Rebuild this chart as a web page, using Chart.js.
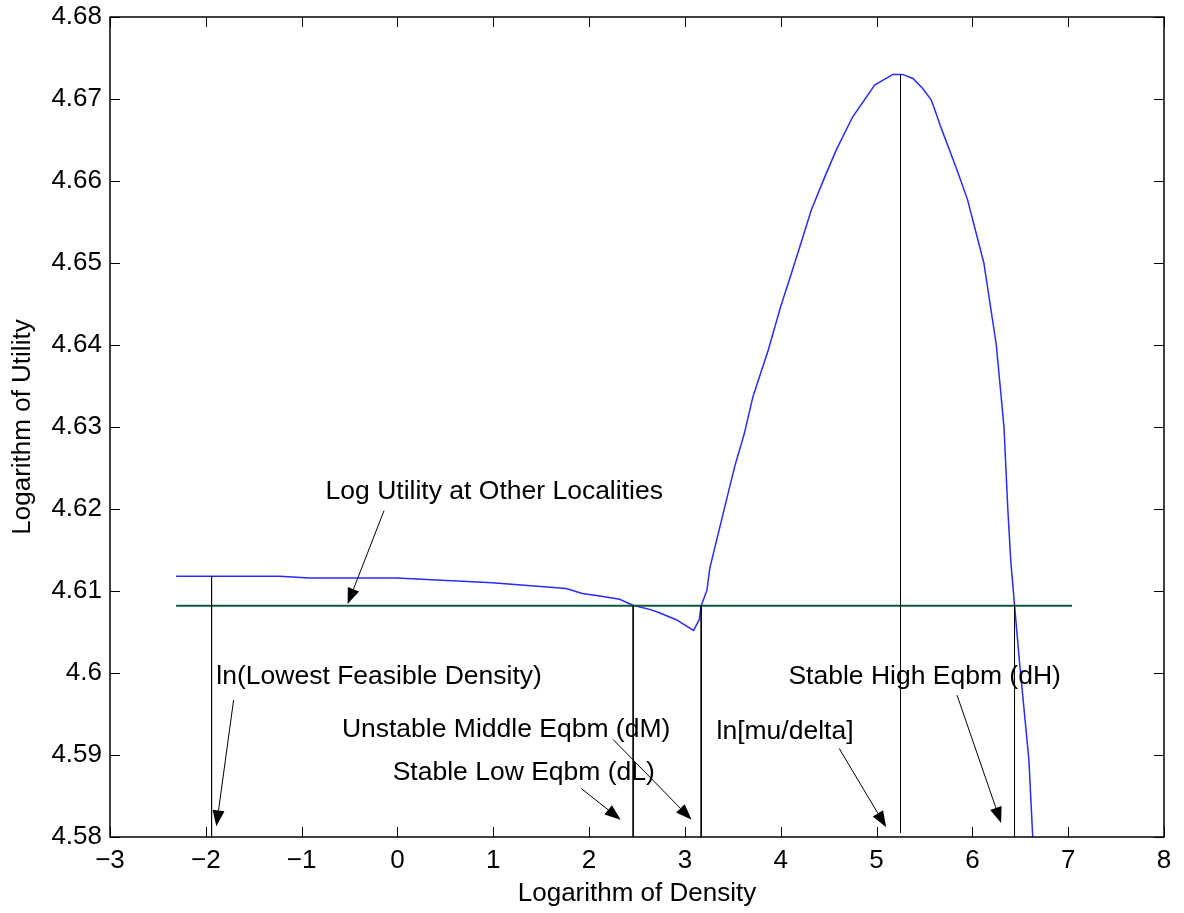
<!DOCTYPE html>
<html>
<head>
<meta charset="utf-8">
<script src="https://cdn.jsdelivr.net/npm/chart.js@4/dist/chart.umd.min.js"></script>
<style>
  html, body { margin: 0; padding: 0; background: #fff; }
  #wrap { width: 1184px; height: 913px; position: relative; }
</style>
</head>
<body>
<div id="wrap"><canvas id="chart"></canvas></div>
<script>
// ── Courbe : log utilité locale selon log densité ──
const densityX = [-2.31, -1.23, -0.92, -0.01, 0.99, 1.76, 1.93, 2.11, 2.32, 2.45, 2.65, 2.72, 2.91, 3.09,
  3.15, 3.17, 3.23, 3.26, 3.40, 3.52, 3.62, 3.71, 3.87, 4.00, 4.11, 4.20, 4.32, 4.46, 4.58, 4.75,
  4.98, 5.17, 5.27, 5.38, 5.48, 5.57, 5.62, 5.67, 5.76, 5.85, 5.95, 6.12, 6.25, 6.33, 6.37, 6.40,
  6.44, 6.49, 6.54, 6.59, 6.63];
const utilityY = [4.6118, 4.6118, 4.6116, 4.6116, 4.6110, 4.6103, 4.6097, 4.6094, 4.6090, 4.6083, 4.6077, 4.6074, 4.6065, 4.6052,
  4.6065, 4.6082, 4.6101, 4.6128, 4.6195, 4.6252, 4.6292, 4.6337, 4.6394, 4.6447, 4.6487, 4.6520, 4.6565, 4.6605, 4.6638, 4.6678,
  4.6717, 4.6730, 4.6730, 4.6725, 4.6713, 4.6699, 4.6683, 4.6666, 4.6638, 4.6610, 4.6577, 4.6500, 4.6400, 4.6300, 4.6200, 4.6138,
  4.6083, 4.6016, 4.5955, 4.5894, 4.5800];

// ── Utilité dans les autres localités (horizontale) ──
const otherX = [-2.31, 7.04];
const otherUtility = 4.6082;

// ── Verticales : équilibres et bornes ──
const eqbmX = [-1.94, 2.46, 3.17, 5.25, 6.44];
const eqbmTop = [4.6118, 4.6082, 4.6082, 4.6730, 4.6082];
const eqbmBottom = [4.58, 4.58, 4.58, 4.5805, 4.58];

// ── Axes ──
const xTicks = [-3, -2, -1, 0, 1, 2, 3, 4, 5, 6, 7, 8];
const xTickLabels = ['\u22123', '\u22122', '\u22121', '0', '1', '2', '3', '4', '5', '6', '7', '8'];
const yTicks = [4.58, 4.59, 4.60, 4.61, 4.62, 4.63, 4.64, 4.65, 4.66, 4.67, 4.68];
const yTickLabels = ['4.58', '4.59', '4.6', '4.61', '4.62', '4.63', '4.64', '4.65', '4.66', '4.67', '4.68'];

// ── Annotations (texte + flèche) ──
const noteText = ['Log Utility at Other Localities', 'ln(Lowest Feasible Density)', 'Unstable Middle Eqbm (dM)',
  'Stable Low Eqbm (dL)', 'ln[mu/delta]', 'Stable High Eqbm (dH)'];
const noteX = [-0.75, -1.89, -0.58, -0.05, 3.33, 4.08];
const noteY = [4.6221, 4.5996, 4.5931, 4.5878, 4.5928, 4.5996];
const arrowFrom = [[-0.14, 4.6198], [-1.71, 4.5967], [2.25, 4.5919], [1.92, 4.5859], [4.61, 4.5908], [5.84, 4.5973]];
const arrowTo = [[-0.52, 4.6084], [-1.89, 4.5813], [3.07, 4.5821], [2.33, 4.5821], [5.10, 4.5812], [6.30, 4.5817]];

const FONT = '"Liberation Sans", Arial, Helvetica, sans-serif';
Chart.defaults.font.family = FONT;
Chart.defaults.font.size = 26;
Chart.defaults.color = '#000';

const segments = eqbmX.map((x, i) => ({
  data: [{ x: x, y: eqbmTop[i] }, { x: x, y: eqbmBottom[i] }],
  borderColor: '#000', borderWidth: 1, showLine: true, pointRadius: 0
}));

// cadre, graduations intérieures (style matlab) et annotations
const framePlugin = {
  id: 'frame',
  afterDraw(chart) {
    const { ctx, chartArea: a, scales: { x: sx, y: sy } } = chart;
    ctx.save();
    ctx.strokeStyle = '#000';
    ctx.lineWidth = 1;
    const tk = 10;
    ctx.beginPath();
    xTicks.forEach(v => {
      const px = Math.round(sx.getPixelForValue(v)) + 0.5;
      ctx.moveTo(px, a.bottom); ctx.lineTo(px, a.bottom - tk);
      ctx.moveTo(px, a.top); ctx.lineTo(px, a.top + tk);
    });
    yTicks.forEach(v => {
      const py = Math.round(sy.getPixelForValue(v)) + 0.5;
      ctx.moveTo(a.left, py); ctx.lineTo(a.left + tk, py);
      ctx.moveTo(a.right, py); ctx.lineTo(a.right - tk, py);
    });
    ctx.stroke();
    ctx.lineWidth = 1.5;
    ctx.strokeRect(a.left, a.top, a.right - a.left, a.bottom - a.top);

    // textes
    ctx.fillStyle = '#000';
    ctx.font = '26.5px ' + FONT;
    ctx.textBaseline = 'middle';
    ctx.textAlign = 'left';
    noteText.forEach((t, i) => {
      ctx.fillText(t, sx.getPixelForValue(noteX[i]), sy.getPixelForValue(noteY[i]));
    });

    // flèches
    ctx.lineWidth = 1;
    arrowFrom.forEach((f, i) => {
      const x0 = sx.getPixelForValue(f[0]), y0 = sy.getPixelForValue(f[1]);
      const x1 = sx.getPixelForValue(arrowTo[i][0]), y1 = sy.getPixelForValue(arrowTo[i][1]);
      const ang = Math.atan2(y1 - y0, x1 - x0);
      const len = 16, hw = 6;
      const bx = x1 - len * Math.cos(ang), by = y1 - len * Math.sin(ang);
      ctx.beginPath();
      ctx.moveTo(x0, y0); ctx.lineTo(bx, by);
      ctx.stroke();
      ctx.beginPath();
      ctx.moveTo(x1, y1);
      ctx.lineTo(bx + hw * Math.sin(ang), by - hw * Math.cos(ang));
      ctx.lineTo(bx - hw * Math.sin(ang), by + hw * Math.cos(ang));
      ctx.closePath();
      ctx.fill();
    });
    ctx.restore();
  }
};

new Chart(document.getElementById('chart'), {
  type: 'scatter',
  data: {
    datasets: [
      ...segments,
      {
        data: otherX.map(x => ({ x: x, y: otherUtility })),
        borderColor: '#0b5a3e', borderWidth: 2, showLine: true, pointRadius: 0
      },
      {
        data: densityX.map((x, i) => ({ x: x, y: utilityY[i] })),
        borderColor: '#2a2aff', borderWidth: 1.5, showLine: true, pointRadius: 0
      }
    ]
  },
  options: {
    responsive: true,
    maintainAspectRatio: false,
    animation: false,
    layout: { padding: { top: 17, right: 20, left: 0, bottom: 0 } },
    plugins: { legend: { display: false }, tooltip: { enabled: false } },
    scales: {
      x: {
        type: 'linear', min: -3, max: 8,
        afterBuildTicks: s => { s.ticks = xTicks.map(v => ({ value: v })); },
        afterFit: s => { s.height = 76; s.paddingLeft = 0; s.paddingRight = 0; },
        grid: { display: false, drawTicks: false },
        border: { display: false },
        ticks: { padding: 8, maxRotation: 0, autoSkip: false, callback: (v, i) => xTickLabels[i] },
        title: { display: true, text: 'Logarithm of Density', padding: { top: 0, bottom: 4 } }
      },
      y: {
        type: 'linear', min: 4.58, max: 4.68,
        afterBuildTicks: s => { s.ticks = yTicks.map(v => ({ value: v })); },
        afterFit: s => { s.width = 110; s.paddingTop = 0; s.paddingBottom = 0; },
        grid: { display: false, drawTicks: false },
        border: { display: false },
        ticks: { padding: 8, autoSkip: false, callback: (v, i) => yTickLabels[i] },
        title: { display: true, text: 'Logarithm of Utility', padding: { top: 7, bottom: 0 } }
      }
    }
  },
  plugins: [framePlugin]
});
</script>
</body>
</html>
